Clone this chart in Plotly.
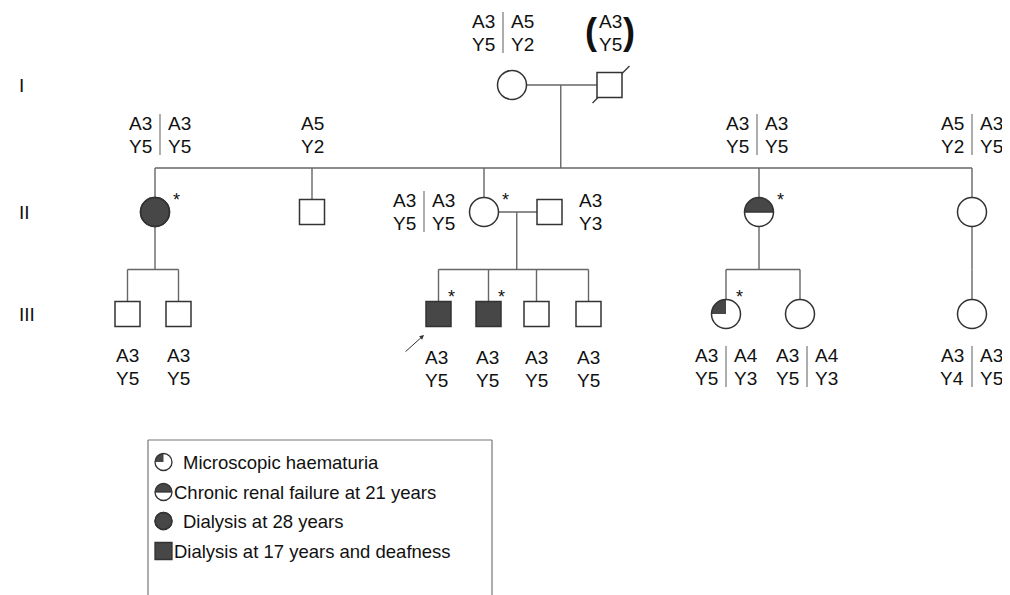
import numpy as np
import plotly.graph_objects as go

# ---------------- data ----------------
generation_labels = ["I", "II", "III"]

ids = ["I-1", "I-2", "II-1", "II-2", "II-3", "II-3s", "II-4", "II-5",
       "III-1", "III-2", "III-3", "III-4", "III-5", "III-6", "III-7", "III-8", "III-9"]
generation = [1, 1, 2, 2, 2, 2, 2, 2, 3, 3, 3, 3, 3, 3, 3, 3, 3]
sex = ["F", "M", "F", "M", "F", "M", "F", "F",
       "M", "M", "M", "M", "M", "M", "F", "F", "F"]
status = ["none", "none", "dialysis28", "none", "none", "none", "crf21", "none",
          "none", "none", "dialysis17", "dialysis17", "none", "none", "haematuria", "none", "none"]
deceased = ["I-2"]
examined = ["II-1", "II-3", "II-4", "III-3", "III-4", "III-7"]   # marked with *
proband = "III-3"
inferred = ["I-2"]                                              # haplotype in brackets

couples = [("I-1", "I-2"), ("II-3", "II-3s")]
families = [
    (("I-1", "I-2"), ["II-1", "II-2", "II-3", "II-4", "II-5"]),
    (("II-1",), ["III-1", "III-2"]),
    (("II-3", "II-3s"), ["III-3", "III-4", "III-5", "III-6"]),
    (("II-4",), ["III-7", "III-8"]),
    (("II-5",), ["III-9"]),
]

haplotypes = {
    "I-1": [("A3", "Y5"), ("A5", "Y2")],
    "I-2": [("A3", "Y5")],
    "II-1": [("A3", "Y5"), ("A3", "Y5")],
    "II-2": [("A5", "Y2")],
    "II-3": [("A3", "Y5"), ("A3", "Y5")],
    "II-3s": [("A3", "Y3")],
    "II-4": [("A3", "Y5"), ("A3", "Y5")],
    "II-5": [("A5", "Y2"), ("A3", "Y5")],
    "III-1": [("A3", "Y5")],
    "III-2": [("A3", "Y5")],
    "III-3": [("A3", "Y5")],
    "III-4": [("A3", "Y5")],
    "III-5": [("A3", "Y5")],
    "III-6": [("A3", "Y5")],
    "III-7": [("A3", "Y5"), ("A4", "Y3")],
    "III-8": [("A3", "Y5"), ("A4", "Y3")],
    "III-9": [("A3", "Y4"), ("A3", "Y5")],
}

legend_labels = ["Microscopic haematuria", "Chronic renal failure at 21 years",
                 "Dialysis at 28 years", "Dialysis at 17 years and deafness"]
legend_status = ["haematuria", "crf21", "dialysis28", "dialysis17"]
legend_sex = ["F", "F", "F", "M"]

# ---------------- layout (drawing positions) ----------------
W, H = 1010, 595
OFF = 8   # page body margin
gen_y = {1: 85, 2: 212, 3: 314}
sib_y = {2: 168, 3: 269.5}
x_pos = {"I-1": 512, "I-2": 609.5, "II-1": 155, "II-2": 312, "II-3": 484, "II-3s": 549.5,
         "II-4": 759, "II-5": 972, "III-1": 127.5, "III-2": 178.5, "III-3": 438.5,
         "III-4": 488.5, "III-5": 536.5, "III-6": 588.5, "III-7": 726, "III-8": 800,
         "III-9": 972}
label_pos = {"I-1": (503, 21), "I-2": (610, 21), "II-1": (160, 123), "II-2": (312, 123),
             "II-3": (424, 200), "II-3s": (590, 200), "II-4": (757, 123), "II-5": (972, 123),
             "III-1": (127.5, 355), "III-2": (178.5, 355), "III-3": (436.5, 357),
             "III-4": (487, 357), "III-5": (536.5, 357), "III-6": (588.5, 357),
             "III-7": (726, 355), "III-8": (807, 355), "III-9": (972, 355)}
ast_off = {1: (21, -17), 2: (21, -17), 3: (13, -22)}
R = 14.5      # circle radius
S = 12.5      # half side of square
ROW = 23
FILL = "#474747"
OUT = "#333333"
LINE = "#666666"
FONT = "Liberation Sans, Arial, sans-serif"
FS = 19

shapes = []
annotations = []


def line(x0, y0, x1, y1, color=LINE, width=1.4):
    shapes.append(dict(type="line", x0=x0, y0=y0, x1=x1, y1=y1,
                       line=dict(color=color, width=width), layer="below"))


def poly_path(pts):
    return "M " + " L ".join(f"{px:.2f},{py:.2f}" for px, py in pts) + " Z"


def symbol(cx, cy, sx, st, r=R, s=S, lw=1.5):
    if sx == "M":
        filled = st in ("dialysis17", "dialysis28")
        shapes.append(dict(type="rect", x0=cx - s, x1=cx + s, y0=cy - s, y1=cy + s,
                           fillcolor=FILL if filled else "white",
                           line=dict(color=OUT, width=lw), layer="above"))
        return
    full = st in ("dialysis28", "dialysis17")
    shapes.append(dict(type="circle", x0=cx - r, x1=cx + r, y0=cy - r, y1=cy + r,
                       fillcolor=FILL if full else "white",
                       line=dict(color=OUT, width=0 if not full else lw), layer="above"))
    if st == "crf21":
        th = np.linspace(0, np.pi, 60)
        pts = list(zip(cx + r * np.cos(th), cy - r * np.sin(th)))
        shapes.append(dict(type="path", path=poly_path(pts), fillcolor=FILL,
                           line=dict(width=0), layer="above"))
        shapes.append(dict(type="line", x0=cx - r, x1=cx + r, y0=cy, y1=cy,
                           line=dict(color=OUT, width=lw), layer="above"))
    if st == "haematuria":
        th = np.linspace(np.pi / 2, np.pi, 30)
        pts = [(cx, cy)] + list(zip(cx + r * np.cos(th), cy - r * np.sin(th)))
        shapes.append(dict(type="path", path=poly_path(pts), fillcolor=FILL,
                           line=dict(width=0), layer="above"))
    shapes.append(dict(type="circle", x0=cx - r, x1=cx + r, y0=cy - r, y1=cy + r,
                       fillcolor="rgba(0,0,0,0)",
                       line=dict(color=OUT, width=lw), layer="above"))


def text(x, y, t, anchor="center", size=FS, bold=False):
    annotations.append(dict(x=x, y=y, text=f"<b>{t}</b>" if bold else t, showarrow=False,
                            xanchor=anchor, yanchor="middle",
                            font=dict(family=FONT, size=size, color="#111111")))


idx = {p: i for i, p in enumerate(ids)}


def top_of(p):
    g = generation[idx[p]]
    return gen_y[g] - (S if sex[idx[p]] == "M" else R)


def bottom_of(p):
    g = generation[idx[p]]
    return gen_y[g] + (S if sex[idx[p]] == "M" else R)


# marriage lines
for a, b in couples:
    ya = gen_y[generation[idx[a]]]
    line(x_pos[a] + R, ya, x_pos[b] - S, ya)

# descent lines
for parents, kids in families:
    if len(parents) == 2:
        px = (x_pos[parents[0]] + x_pos[parents[1]]) / 2
        py = gen_y[generation[idx[parents[0]]]]
    else:
        px = x_pos[parents[0]]
        py = bottom_of(parents[0])
    g = generation[idx[kids[0]]]
    sy = sib_y[g]
    line(px, py, px, sy)
    xs = [x_pos[k] for k in kids]
    line(min(xs), sy, max(xs), sy)
    for k in kids:
        line(x_pos[k], sy, x_pos[k], top_of(k))

# symbols
for i, p in enumerate(ids):
    cx, cy = x_pos[p], gen_y[generation[i]]
    symbol(cx, cy, sex[i], status[i])
    if p in deceased:
        line(cx - 17, cy + 18, cx + 20, cy - 19, color=OUT, width=1.2)
    if p in examined:
        dx, dy = ast_off[generation[i]]
        text(cx + dx, cy + dy + 5, "*", size=18)

# proband arrow
pcx, pcy = x_pos[proband], gen_y[generation[idx[proband]]]
annotations.append(dict(x=pcx - 14.5, y=pcy + 21, ax=-20, ay=18, text="", showarrow=True,
                        arrowhead=2, arrowsize=0.9, arrowwidth=1, arrowcolor=OUT,
                        xref="x", yref="y", axref="pixel", ayref="pixel"))

# haplotype labels
for p, haps in haplotypes.items():
    lx, ly = label_pos[p]
    if len(haps) == 2:
        for row in range(2):
            text(lx - 6, ly + row * ROW, haps[0][row], anchor="right")
            text(lx + 6, ly + row * ROW, haps[1][row], anchor="left")
        line(lx, ly - 9, lx, ly + ROW + 9, color="#777777", width=1.2)
    else:
        for row in range(2):
            text(lx, ly + row * ROW, haps[0][row])
        if p in inferred:
            text(lx - 19, ly + ROW / 2 - 1, "(", size=36, bold=True)
            text(lx + 19, ly + ROW / 2 - 1, ")", size=36, bold=True)

# generation labels
for g, lab in enumerate(generation_labels, start=1):
    text(17, gen_y[g], lab, anchor="left")

# legend box (open at the bottom edge of the picture)
line(148, 440, 492, 440, color="#777777", width=1.2)
line(148, 440, 148, H + 5, color="#777777", width=1.2)
line(492, 440, 492, H + 5, color="#777777", width=1.2)
leg_y = [462, 492, 521, 551]
leg_tx = [181, 172, 181, 172]
for lab, st, sx, ly, tx in zip(legend_labels, legend_status, legend_sex, leg_y, leg_tx):
    symbol(163.5, ly, sx, st, r=8.5, s=8.5, lw=1.3)
    text(tx, ly, lab, anchor="left", size=18.5)

# page has an 8px body margin: offset the axes so data units equal page pixels
PW, PH = W - OFF, H - OFF
fig = go.Figure()
fig.add_trace(go.Scatter(x=[OFF, W], y=[OFF, OFF + PH], mode="markers", marker=dict(opacity=0),
                         hoverinfo="skip", showlegend=False))
fig.update_layout(
    width=PW, height=PH, margin=dict(l=0, r=0, t=0, b=0),
    paper_bgcolor="white", plot_bgcolor="white",
    xaxis=dict(range=[OFF, OFF + PW], visible=False, fixedrange=True),
    yaxis=dict(range=[OFF + PH, OFF], visible=False, fixedrange=True),
    shapes=shapes, annotations=annotations, showlegend=False,
)
fig.write_html("out.html")
